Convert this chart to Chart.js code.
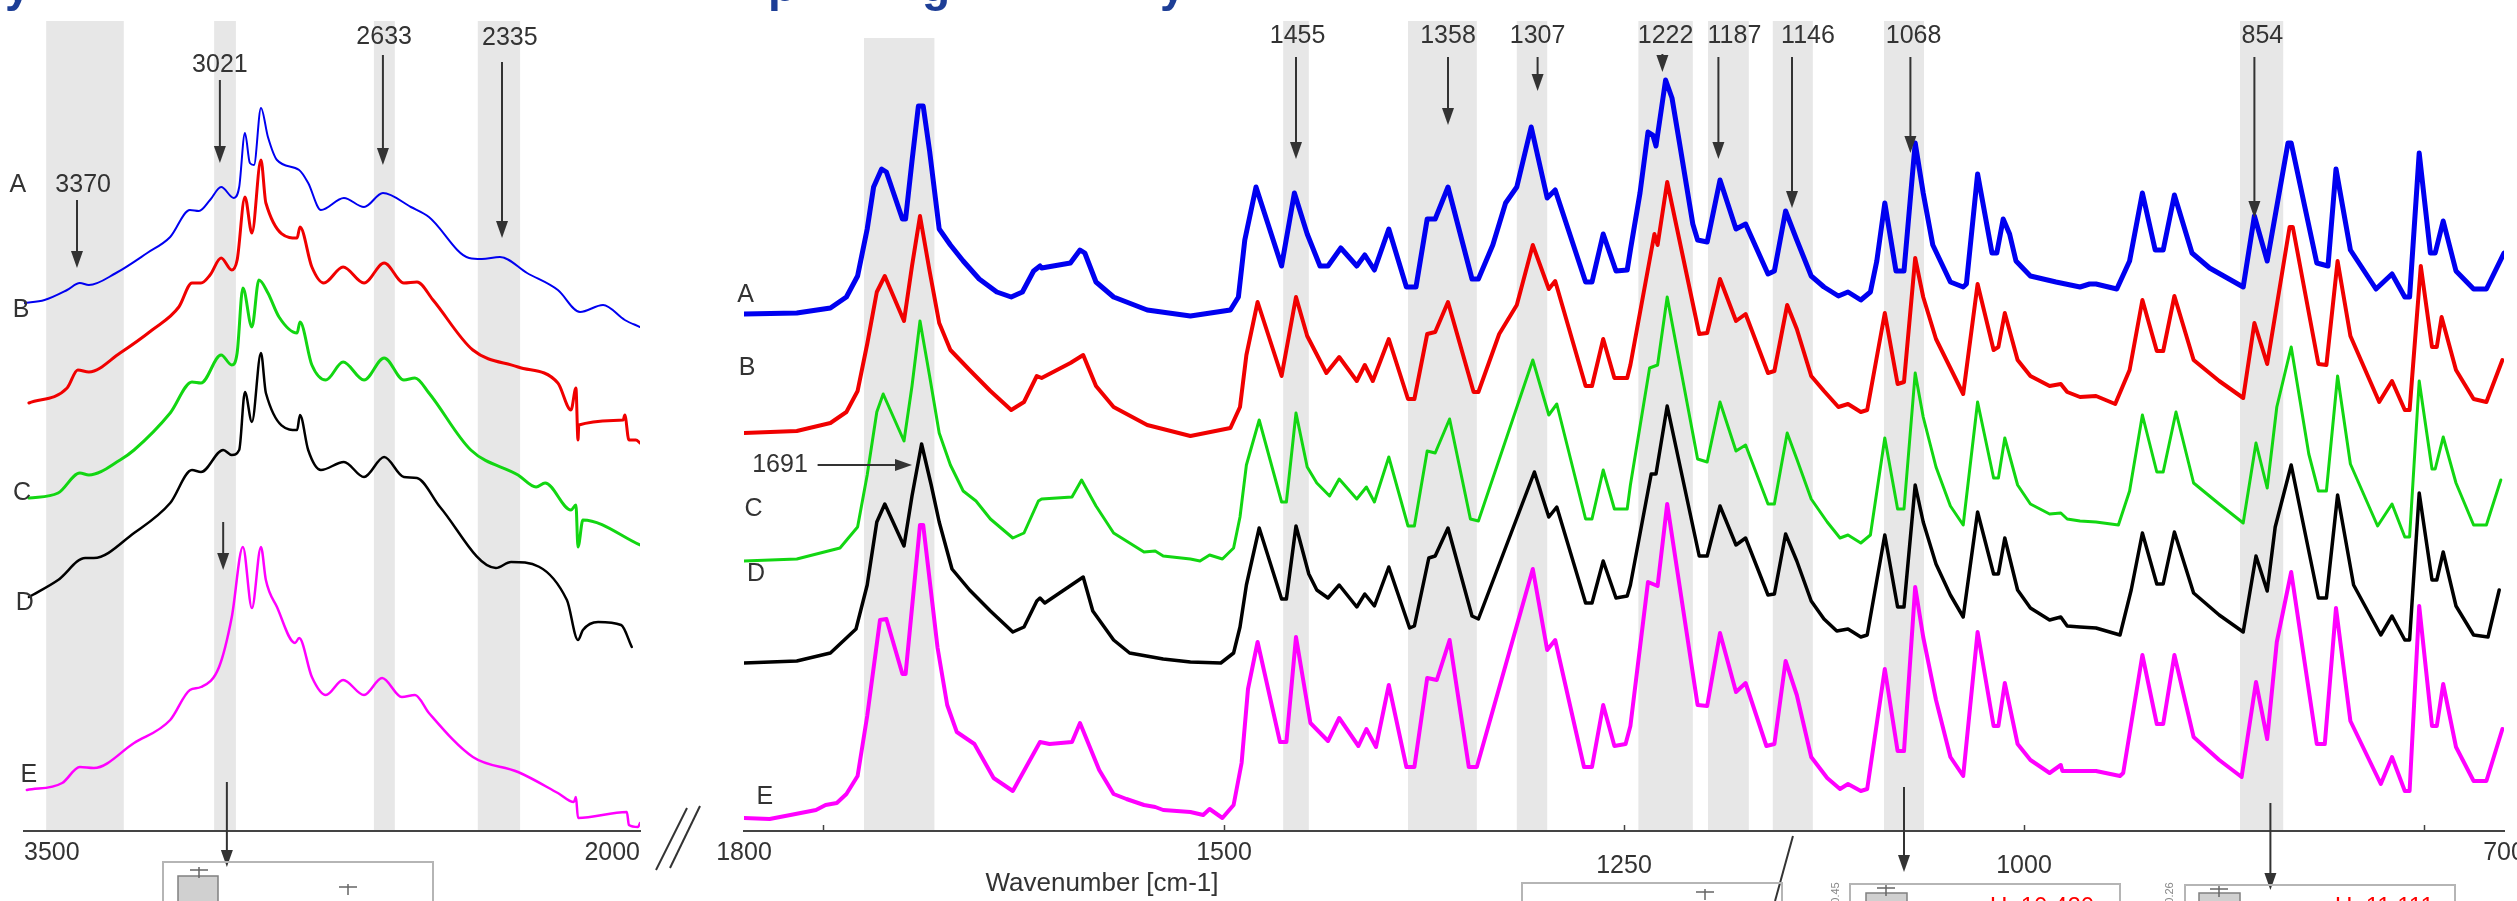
<!DOCTYPE html>
<html>
<head>
<meta charset="utf-8">
<script src="https://cdn.jsdelivr.net/npm/chart.js@4"></script>
<style>
  html, body { margin: 0; padding: 0; background: #fff; overflow: hidden; width: 2517px; height: 901px; }
  canvas { position: absolute; left: 0; top: 0; }
</style>
</head>
<body>
<canvas id="leftChart" width="2560" height="901"></canvas>
<canvas id="rightChart" width="2560" height="901"></canvas>
<script>
/*global Chart*/

// spectra: [wavenumber cm-1, offset absorbance]
const leftA = [[3500,5.28],[3450,5.31],[3395,5.41],[3364,5.48],[3342,5.46],[3276,5.58],[3200,5.78],[3144,5.94],[3096,6.21],[3074,6.20],[3047,6.31],[3020,6.44],[2989,6.33],[2976,6.44],[2962,6.98],[2950,6.68],[2940,6.66],[2923,7.23],[2906,6.94],[2884,6.71],[2830,6.61],[2808,6.48],[2777,6.21],[2721,6.33],[2672,6.24],[2626,6.38],[2558,6.24],[2514,6.14],[2416,5.73],[2385,5.72],[2341,5.74],[2275,5.58],[2200,5.41],[2146,5.19],[2090,5.26],[2037,5.11],[2000,5.04]];
const leftB = [[3488,4.28],[3395,4.43],[3369,4.61],[3342,4.59],[3266,4.78],[3188,5.01],[3123,5.24],[3091,5.48],[3069,5.48],[3047,5.56],[3020,5.73],[2994,5.61],[2981,5.71],[2962,6.34],[2945,5.98],[2923,6.71],[2911,6.28],[2835,5.93],[2828,6.04],[2799,5.64],[2770,5.48],[2723,5.64],[2672,5.48],[2623,5.68],[2575,5.48],[2543,5.49],[2504,5.31],[2407,4.81],[2297,4.64],[2200,4.48],[2168,4.21],[2156,4.43],[2151,3.91],[2149,4.06],[2041,4.11],[2037,4.16],[2027,3.91],[2010,3.91],[2000,3.88]];
const leftC = [[3488,3.33],[3417,3.38],[3364,3.58],[3342,3.56],[3266,3.71],[3232,3.81],[3144,4.18],[3091,4.49],[3069,4.48],[3020,4.76],[2994,4.66],[2981,4.78],[2967,5.43],[2945,5.04],[2928,5.51],[2906,5.38],[2879,5.14],[2835,4.98],[2828,5.09],[2799,4.66],[2765,4.51],[2723,4.69],[2672,4.51],[2623,4.73],[2575,4.51],[2548,4.53],[2514,4.38],[2412,3.81],[2297,3.56],[2253,3.44],[2231,3.48],[2168,3.21],[2156,3.26],[2151,2.84],[2139,3.11],[2000,2.86]];
const leftD = [[3488,2.34],[3417,2.51],[3351,2.73],[3330,2.73],[3232,2.98],[3144,3.28],[3091,3.61],[3069,3.59],[3015,3.81],[2994,3.76],[2976,3.81],[2962,4.39],[2945,4.09],[2923,4.78],[2911,4.38],[2835,4.01],[2828,4.16],[2808,3.81],[2777,3.61],[2721,3.69],[2672,3.54],[2623,3.74],[2575,3.54],[2543,3.53],[2487,3.24],[2351,2.63],[2314,2.69],[2178,2.31],[2151,1.91],[2139,2.01],[2102,2.09],[2046,2.06],[2020,1.84]];
const leftE = [[3493,0.41],[3407,0.48],[3364,0.64],[3330,0.63],[3232,0.88],[3144,1.11],[3096,1.41],[3069,1.44],[3025,1.64],[2994,2.14],[2967,2.84],[2945,2.23],[2923,2.84],[2911,2.51],[2884,2.24],[2840,1.88],[2830,1.93],[2799,1.54],[2765,1.36],[2723,1.51],[2672,1.36],[2628,1.53],[2580,1.34],[2548,1.36],[2514,1.18],[2407,0.74],[2297,0.59],[2200,0.38],[2161,0.29],[2156,0.34],[2151,0.13],[2032,0.19],[2027,0.06],[2005,0.04],[2000,0.08]];

const rightA = [[1800,5.17],[1767,5.18],[1746,5.23],[1736,5.34],[1729,5.55],[1723,6.02],[1719,6.44],[1714,6.62],[1711,6.59],[1701,6.12],[1699,6.12],[1695,6.70],[1691,7.25],[1688,7.25],[1684,6.80],[1678,6.02],[1671,5.86],[1663,5.70],[1653,5.52],[1642,5.39],[1633,5.34],[1626,5.39],[1619,5.60],[1615,5.65],[1614,5.63],[1596,5.68],[1590,5.81],[1587,5.78],[1580,5.49],[1569,5.34],[1548,5.21],[1521,5.15],[1496,5.21],[1491,5.34],[1487,5.91],[1480,6.44],[1464,5.65],[1456,6.38],[1448,5.97],[1440,5.65],[1435,5.65],[1427,5.83],[1417,5.65],[1412,5.76],[1406,5.61],[1397,6.02],[1386,5.44],[1380,5.44],[1373,6.12],[1368,6.12],[1360,6.44],[1345,5.52],[1341,5.52],[1332,5.86],[1324,6.28],[1317,6.44],[1308,7.04],[1298,6.33],[1293,6.41],[1274,5.49],[1270,5.49],[1263,5.97],[1255,5.60],[1248,5.61],[1246,5.81],[1240,6.38],[1235,6.99],[1232,6.96],[1230,6.85],[1224,7.51],[1220,7.33],[1215,6.85],[1207,6.07],[1204,5.91],[1198,5.89],[1190,6.51],[1180,6.02],[1174,6.07],[1160,5.57],[1156,5.60],[1149,6.20],[1142,5.91],[1133,5.55],[1125,5.44],[1116,5.35],[1110,5.39],[1102,5.31],[1096,5.39],[1092,5.70],[1087,6.28],[1080,5.60],[1075,5.60],[1068,6.88],[1063,6.38],[1057,5.86],[1046,5.49],[1038,5.44],[1036,5.47],[1029,6.57],[1020,5.78],[1017,5.78],[1013,6.12],[1009,5.97],[1005,5.70],[996,5.55],[980,5.49],[965,5.44],[959,5.47],[955,5.47],[942,5.42],[934,5.70],[926,6.38],[918,5.81],[913,5.81],[906,6.36],[895,5.78],[884,5.63],[863,5.44],[856,6.15],[848,5.70],[835,6.88],[833,6.88],[817,5.68],[810,5.65],[805,6.62],[796,5.81],[780,5.42],[770,5.57],[762,5.34],[759,5.34],[753,6.78],[746,5.78],[743,5.78],[738,6.10],[730,5.60],[719,5.42],[711,5.42],[700,5.78]];
const rightB = [[1800,3.98],[1767,4.00],[1746,4.08],[1736,4.19],[1729,4.40],[1723,4.87],[1717,5.39],[1712,5.55],[1700,5.10],[1695,5.65],[1690,6.15],[1684,5.60],[1678,5.08],[1671,4.81],[1659,4.61],[1646,4.40],[1633,4.21],[1625,4.29],[1617,4.55],[1614,4.53],[1596,4.68],[1588,4.76],[1580,4.45],[1569,4.24],[1548,4.06],[1521,3.95],[1496,4.03],[1490,4.24],[1486,4.76],[1479,5.29],[1464,4.55],[1455,5.34],[1448,4.95],[1436,4.58],[1428,4.74],[1417,4.50],[1412,4.66],[1407,4.50],[1397,4.92],[1385,4.32],[1381,4.32],[1373,4.97],[1368,4.99],[1360,5.29],[1344,4.39],[1341,4.39],[1328,4.97],[1317,5.26],[1307,5.86],[1297,5.42],[1293,5.50],[1274,4.45],[1270,4.45],[1263,4.92],[1256,4.53],[1248,4.53],[1246,4.66],[1231,5.97],[1229,5.86],[1223,6.49],[1203,4.97],[1198,4.98],[1190,5.52],[1180,5.10],[1174,5.17],[1160,4.58],[1156,4.60],[1148,5.26],[1142,5.02],[1133,4.55],[1125,4.40],[1116,4.24],[1110,4.27],[1102,4.19],[1098,4.21],[1087,5.18],[1079,4.47],[1075,4.49],[1068,5.73],[1063,5.34],[1055,4.92],[1038,4.37],[1029,5.47],[1019,4.81],[1016,4.84],[1012,5.18],[1004,4.71],[996,4.55],[984,4.45],[977,4.47],[973,4.39],[965,4.34],[955,4.35],[943,4.27],[934,4.61],[926,5.31],[917,4.80],[913,4.80],[906,5.35],[894,4.71],[878,4.50],[863,4.33],[856,5.08],[848,4.67],[834,6.04],[832,6.04],[816,4.67],[811,4.66],[804,5.70],[796,4.95],[778,4.29],[770,4.50],[762,4.21],[759,4.21],[752,5.65],[745,4.84],[742,4.84],[739,5.14],[730,4.61],[719,4.32],[711,4.29],[701,4.71]];
const rightC = [[1800,2.70],[1767,2.72],[1740,2.83],[1729,3.04],[1723,3.56],[1717,4.19],[1713,4.37],[1700,3.90],[1695,4.45],[1690,5.10],[1684,4.55],[1678,3.98],[1671,3.66],[1663,3.40],[1655,3.30],[1646,3.12],[1632,2.93],[1625,2.98],[1616,3.30],[1614,3.32],[1595,3.34],[1589,3.51],[1580,3.25],[1569,2.98],[1559,2.88],[1550,2.79],[1543,2.80],[1538,2.75],[1521,2.72],[1515,2.70],[1509,2.76],[1501,2.72],[1494,2.83],[1490,3.14],[1486,3.66],[1478,4.11],[1464,3.29],[1461,3.29],[1455,4.18],[1448,3.64],[1442,3.48],[1434,3.35],[1428,3.52],[1417,3.32],[1411,3.44],[1406,3.29],[1397,3.74],[1385,3.05],[1381,3.05],[1373,3.80],[1368,3.78],[1359,4.12],[1346,3.12],[1341,3.10],[1307,4.71],[1297,4.16],[1292,4.27],[1274,3.12],[1270,3.12],[1263,3.61],[1256,3.22],[1248,3.22],[1246,3.46],[1234,4.63],[1229,4.66],[1223,5.34],[1204,3.72],[1198,3.69],[1190,4.29],[1180,3.80],[1174,3.86],[1160,3.27],[1156,3.27],[1148,3.98],[1142,3.72],[1133,3.32],[1123,3.09],[1115,2.93],[1110,2.96],[1102,2.88],[1096,2.96],[1087,3.93],[1079,3.22],[1075,3.22],[1068,4.58],[1063,4.14],[1055,3.64],[1046,3.25],[1038,3.06],[1029,4.29],[1019,3.53],[1016,3.53],[1012,3.93],[1004,3.46],[996,3.27],[984,3.17],[977,3.18],[973,3.12],[965,3.10],[955,3.09],[941,3.06],[934,3.40],[926,4.16],[917,3.59],[913,3.59],[905,4.19],[894,3.48],[878,3.27],[863,3.08],[855,3.88],[848,3.43],[842,4.24],[833,4.84],[822,3.77],[816,3.40],[811,3.40],[804,4.55],[796,3.67],[779,3.05],[770,3.27],[762,2.94],[759,2.94],[753,4.50],[745,3.62],[743,3.62],[738,3.94],[730,3.48],[719,3.06],[711,3.06],[702,3.51]];
const rightD = [[1800,1.68],[1767,1.70],[1746,1.78],[1730,2.02],[1723,2.46],[1717,3.09],[1712,3.27],[1700,2.85],[1695,3.35],[1689,3.87],[1683,3.46],[1678,3.09],[1670,2.62],[1659,2.41],[1646,2.20],[1632,1.99],[1625,2.04],[1617,2.30],[1615,2.33],[1612,2.28],[1588,2.54],[1582,2.20],[1569,1.91],[1559,1.78],[1538,1.72],[1521,1.69],[1502,1.68],[1494,1.78],[1490,2.04],[1486,2.46],[1478,3.03],[1464,2.32],[1461,2.32],[1455,3.05],[1447,2.57],[1442,2.41],[1435,2.33],[1428,2.46],[1417,2.24],[1412,2.37],[1406,2.25],[1397,2.64],[1384,2.03],[1381,2.05],[1372,2.73],[1368,2.75],[1360,3.03],[1345,2.15],[1341,2.12],[1306,3.59],[1297,3.14],[1292,3.24],[1274,2.28],[1270,2.28],[1263,2.70],[1255,2.33],[1248,2.35],[1246,2.46],[1233,3.57],[1230,3.57],[1223,4.25],[1203,2.75],[1198,2.75],[1190,3.25],[1180,2.86],[1174,2.93],[1160,2.36],[1156,2.37],[1149,2.97],[1142,2.70],[1133,2.30],[1125,2.12],[1117,2.00],[1110,2.02],[1102,1.94],[1098,1.96],[1087,2.96],[1079,2.24],[1075,2.24],[1068,3.46],[1063,3.09],[1055,2.67],[1046,2.36],[1038,2.14],[1029,3.19],[1019,2.57],[1016,2.57],[1012,2.93],[1004,2.41],[996,2.23],[984,2.11],[977,2.14],[973,2.05],[965,2.04],[955,2.03],[940,1.96],[933,2.41],[926,2.98],[917,2.47],[913,2.47],[906,2.99],[894,2.38],[878,2.16],[863,1.99],[855,2.75],[848,2.40],[843,3.04],[833,3.66],[816,2.33],[811,2.33],[804,3.36],[794,2.46],[777,1.96],[770,2.15],[762,1.91],[759,1.91],[753,3.38],[745,2.51],[742,2.51],[738,2.79],[730,2.25],[719,1.96],[710,1.94],[703,2.41]];
const rightE = [[1800,0.13],[1784,0.12],[1771,0.16],[1755,0.21],[1749,0.26],[1742,0.28],[1736,0.37],[1729,0.55],[1723,1.15],[1715,2.11],[1711,2.12],[1701,1.57],[1699,1.57],[1690,3.06],[1688,3.06],[1679,1.83],[1673,1.26],[1667,0.99],[1656,0.87],[1644,0.53],[1632,0.40],[1615,0.89],[1609,0.87],[1595,0.89],[1590,1.08],[1578,0.61],[1569,0.37],[1561,0.32],[1550,0.26],[1543,0.24],[1538,0.21],[1521,0.19],[1513,0.16],[1509,0.22],[1501,0.13],[1494,0.26],[1489,0.68],[1485,1.42],[1479,1.89],[1465,0.89],[1461,0.89],[1455,1.94],[1446,1.08],[1435,0.90],[1428,1.13],[1416,0.85],[1411,1.02],[1405,0.84],[1397,1.46],[1386,0.64],[1381,0.64],[1373,1.53],[1367,1.51],[1359,1.91],[1347,0.64],[1342,0.64],[1307,2.62],[1298,1.81],[1293,1.91],[1275,0.64],[1270,0.64],[1263,1.26],[1256,0.85],[1249,0.87],[1246,1.05],[1235,2.49],[1229,2.45],[1223,3.27],[1204,1.26],[1198,1.25],[1190,1.98],[1180,1.39],[1174,1.48],[1161,0.85],[1156,0.87],[1149,1.70],[1142,1.36],[1133,0.74],[1123,0.53],[1115,0.42],[1110,0.47],[1102,0.40],[1098,0.42],[1087,1.62],[1079,0.80],[1075,0.80],[1068,2.44],[1063,1.94],[1055,1.31],[1046,0.74],[1038,0.55],[1029,1.99],[1019,1.05],[1016,1.05],[1012,1.48],[1004,0.87],[996,0.71],[984,0.58],[977,0.66],[976,0.60],[959,0.60],[955,0.60],[940,0.55],[938,0.58],[926,1.76],[917,1.07],[913,1.07],[906,1.76],[894,0.94],[878,0.71],[864,0.54],[855,1.49],[848,0.92],[842,1.89],[833,2.59],[817,0.87],[812,0.87],[805,2.23],[796,1.10],[777,0.47],[770,0.74],[762,0.40],[759,0.40],[753,2.25],[745,1.05],[742,1.05],[738,1.47],[730,0.84],[719,0.50],[711,0.50],[701,1.02]];

const seriesNames = ['A', 'B', 'C', 'D', 'E'];
const seriesColors = ['#0000f0', '#f00000', '#12d612', '#000000', '#ff00ff'];

// axis ticks (ascending order so that 'inner' alignment works on the reversed axis)
const leftTicks = [2000, 3500];
const rightTicks = [700, 750, 1000, 1250, 1500, 1750, 1800];
const rightLabels = [1800, 1500, 700];
const rightLowerLabels = [1250, 1000];

// shaded bands [from, to, top]
const leftBands = [[3446, 3257, 8.1], [3037, 2984, 8.1], [2648, 2597, 8.1], [2395, 2292, 8.1]];
const rightBands = [[1725, 1681, 7.93], [1463, 1447, 8.1], [1385, 1342, 8.1], [1317, 1298, 8.1], [1241, 1207, 8.1], [1197.5, 1172, 8.1], [1157, 1132, 8.1], [1087.5, 1062.5, 8.1], [865, 838, 8.1]];

// peak markers
const leftArrows = [
    { x: 3371, y1: 6.31, y2: 5.63, text: '3370', tx: 3356, ty: 6.46 },
    { x: 3023, y1: 7.51, y2: 6.68, text: '3021', tx: 3023, ty: 7.66 },
    { x: 2626, y1: 7.76, y2: 6.66, text: '2633', tx: 2623, ty: 7.94 },
    { x: 2336, y1: 7.69, y2: 5.93, text: '2335', tx: 2317, ty: 7.93 },
    { x: 3015, y1: 3.09, y2: 2.61 },
    { x: 3006, y1: 0.49, y2: -0.36 },
];
const rightArrows = [
    { x: 1455, y1: 7.74, y2: 6.72, text: '1455', tx: 1454, ty: 7.95 },
    { x: 1360, y1: 7.74, y2: 7.06, text: '1358', tx: 1360, ty: 7.95 },
    { x: 1304, y1: 7.74, y2: 7.40, text: '1307', tx: 1304, ty: 7.95 },
    { x: 1226, y1: 7.77, y2: 7.59, text: '1222', tx: 1224, ty: 7.95 },
    { x: 1191, y1: 7.74, y2: 6.72, text: '1187', tx: 1181, ty: 7.95 },
    { x: 1145, y1: 7.74, y2: 6.23, text: '1146', tx: 1135, ty: 7.95 },
    { x: 1071, y1: 7.74, y2: 6.78, text: '1068', tx: 1069, ty: 7.95 },
    { x: 856, y1: 7.74, y2: 6.13, text: '854', tx: 851, ty: 7.95 },
    { x: 1075, y1: 0.44, y2: -0.41 },
    { x: 846, y1: 0.28, y2: -0.59 },
];
const leftLetters = [['A', 3515, 6.46], ['B', 3507, 5.21], ['C', 3505, 3.38], ['D', 3498, 2.28], ['E', 3488, 0.56]];
const rightLetters = [['A', 1799, 5.36], ['B', 1798, 4.63], ['C', 1794, 3.22], ['D', 1792.5, 2.57], ['E', 1787, 0.34]];

const inkColor = '#333333';
const bandColor = '#e7e7e7';
const textFont = '25px "Liberation Sans", Arial, sans-serif';

Chart.defaults.font.family = '"Liberation Sans", Arial, sans-serif';
Chart.defaults.color = inkColor;

function makeDatasets(series, widths, smooth) {
    return series.map((s, i) => ({
        label: seriesNames[i],
        data: s.map(p => ({ x: p[0], y: p[1] })),
        borderColor: seriesColors[i],
        borderWidth: widths[i],
        pointRadius: 0,
        fill: false,
        tension: 0,
        cubicInterpolationMode: smooth ? 'monotone' : 'default',
        borderJoinStyle: 'round',
        borderCapStyle: 'round',
    }));
}

function drawArrow(ctx, x1, y1, x2, y2) {
    const ang = Math.atan2(y2 - y1, x2 - x1);
    const head = Math.min(17, Math.hypot(x2 - x1, y2 - y1));
    const bx = x2 - head * Math.cos(ang);
    const by = y2 - head * Math.sin(ang);
    ctx.beginPath();
    ctx.moveTo(x1, y1);
    ctx.lineTo(bx, by);
    ctx.stroke();
    ctx.beginPath();
    ctx.moveTo(x2, y2);
    ctx.lineTo(bx + 6 * Math.sin(ang), by - 6 * Math.cos(ang));
    ctx.lineTo(bx - 6 * Math.sin(ang), by + 6 * Math.cos(ang));
    ctx.closePath();
    ctx.fill();
}

function makeAnnotator(id, bands, arrows, letters, extra) {
    return {
        id: id,
        beforeDatasetsDraw(chart) {
            const { ctx, chartArea } = chart;
            const x = chart.scales.x, y = chart.scales.y;
            ctx.save();
            ctx.fillStyle = bandColor;
            bands.forEach(b => {
                const x1 = x.getPixelForValue(b[0]);
                const x2 = x.getPixelForValue(b[1]);
                const top = y.getPixelForValue(b[2]);
                ctx.fillRect(Math.min(x1, x2), top, Math.abs(x2 - x1), chartArea.bottom - 1 - top);
            });
            ctx.restore();
        },
        afterDatasetsDraw(chart) {
            const ctx = chart.ctx;
            const x = chart.scales.x, y = chart.scales.y;
            ctx.save();
            ctx.font = textFont;
            ctx.fillStyle = inkColor;
            ctx.strokeStyle = inkColor;
            ctx.lineWidth = 2;
            ctx.textAlign = 'center';
            ctx.textBaseline = 'middle';
            arrows.forEach(a => {
                const px = x.getPixelForValue(a.x);
                drawArrow(ctx, px, y.getPixelForValue(a.y1), px, y.getPixelForValue(a.y2));
                if (a.text) {
                    ctx.fillText(a.text, x.getPixelForValue(a.tx), y.getPixelForValue(a.ty));
                }
            });
            letters.forEach(l => ctx.fillText(l[0], x.getPixelForValue(l[1]), y.getPixelForValue(l[2])));
            if (extra) extra(chart, ctx, x, y);
            ctx.restore();
        }
    };
}

// 1691 pointer, lower-row tick labels and the slanted lead line of the right panel
function rightExtras(chart, ctx, x, y) {
    const py = y.getPixelForValue(3.66);
    ctx.fillText('1691', x.getPixelForValue(1777.5), py);
    drawArrow(ctx, x.getPixelForValue(1754), py, x.getPixelForValue(1695), py);
    ctx.beginPath();
    ctx.moveTo(x.getPixelForValue(1144.4), y.getPixelForValue(-0.05));
    ctx.lineTo(x.getPixelForValue(1155.6), y.getPixelForValue(-0.70));
    ctx.stroke();
    rightLowerLabels.forEach(v => ctx.fillText(String(v), x.getPixelForValue(v), chart.chartArea.bottom + 35));
}

// page furniture around the plot: cut-off title, axis break, insets, axis title
const decor = {
    id: 'decor',
    afterDraw(chart) {
        const ctx = chart.ctx;
        ctx.save();
        ctx.fillStyle = '#1d3e96';
        ctx.font = 'bold 46px "Liberation Sans", Arial, sans-serif';
        ctx.textBaseline = 'alphabetic';
        [[5, 'y'], [768, 'p'], [922, 'g'], [1160, 'y']].forEach(b => ctx.fillText(b[1], b[0], 1));

        ctx.fillStyle = inkColor;
        ctx.font = '26px "Liberation Sans", Arial, sans-serif';
        ctx.textAlign = 'center';
        ctx.textBaseline = 'middle';
        ctx.fillText('Wavenumber [cm-1]', 1102, 884);

        ctx.strokeStyle = inkColor;
        ctx.lineWidth = 2;
        [[687, 808, 656, 870], [700, 806, 670, 868]].forEach(l => {
            ctx.beginPath();
            ctx.moveTo(l[0], l[1]);
            ctx.lineTo(l[2], l[3]);
            ctx.stroke();
        });

        ctx.strokeStyle = '#b5b5b5';
        ctx.lineWidth = 2;
        ctx.strokeRect(163, 862, 270, 80);
        ctx.strokeRect(1522, 883, 260, 60);
        ctx.strokeRect(1850, 884, 270, 60);
        ctx.strokeRect(2185, 885, 270, 60);

        ctx.fillStyle = '#d0d0d0';
        ctx.strokeStyle = '#808080';
        ctx.lineWidth = 1.5;
        [[178, 876, 40, 40], [1866, 893, 41, 20], [2199, 893, 41, 20]].forEach(r => {
            ctx.fillRect(r[0], r[1], r[2], r[3]);
            ctx.strokeRect(r[0], r[1], r[2], r[3]);
        });
        ctx.strokeStyle = '#666';
        [[199, 870], [348, 887], [1705, 892], [1886, 888], [2219, 889]].forEach(m => {
            ctx.beginPath();
            ctx.moveTo(m[0] - 9, m[1]);
            ctx.lineTo(m[0] + 9, m[1]);
            ctx.moveTo(m[0], m[1] - 3);
            ctx.lineTo(m[0], m[1] + 8);
            ctx.stroke();
        });

        ctx.fillStyle = '#888';
        ctx.font = '11px "Liberation Sans", Arial, sans-serif';
        [[1836, 893, '0.45'], [2170, 893, '0.26']].forEach(t => {
            ctx.save();
            ctx.translate(t[0], t[1]);
            ctx.rotate(-Math.PI / 2);
            ctx.fillText(t[2], 0, 0);
            ctx.restore();
        });

        ctx.fillStyle = '#ff0000';
        ctx.font = '24px "Liberation Sans", Arial, sans-serif';
        ctx.textAlign = 'left';
        ctx.textBaseline = 'top';
        ctx.fillText('U: 10.420', 1990, 895);
        ctx.fillText('U: 11.111', 2335, 895);
        ctx.restore();
    }
};

const tickFont = { size: 25 };

const leftConfig = {
    type: 'line',
    data: { datasets: makeDatasets([leftA, leftB, leftC, leftD, leftE], [2, 3, 3, 2.5, 2.5], true) },
    options: {
        responsive: false,
        animation: false,
        events: [],
        devicePixelRatio: 1,
        layout: { padding: { left: 24, right: 1920, top: 21, bottom: 0 } },
        plugins: { legend: { display: false }, tooltip: { enabled: false } },
        scales: {
            x: {
                type: 'linear',
                position: 'bottom',
                reverse: true,
                min: 2000,
                max: 3500,
                afterBuildTicks: s => { s.ticks = leftTicks.map(v => ({ value: v })); },
                afterFit: s => { s.height = 70; },
                ticks: { autoSkip: false, maxRotation: 0, align: 'inner', padding: 7, font: tickFont, color: inkColor,
                    callback: v => String(v) },
                grid: { display: true, drawOnChartArea: false, drawTicks: false, color: 'rgba(0,0,0,0)' },
                border: { display: true, color: '#444', width: 2 },
            },
            y: { display: false, min: 0, max: 8.1 },
        },
    },
    plugins: [makeAnnotator('leftNotes', leftBands, leftArrows, leftLetters, null)],
};

const rightConfig = {
    type: 'line',
    data: { datasets: makeDatasets([rightA, rightB, rightC, rightD, rightE], [5, 4, 3, 3.5, 4], false) },
    options: {
        responsive: false,
        animation: false,
        events: [],
        devicePixelRatio: 1,
        layout: { padding: { left: 744, right: 56, top: 21, bottom: 0 } },
        plugins: { legend: { display: false }, tooltip: { enabled: false } },
        scales: {
            x: {
                type: 'linear',
                position: 'bottom',
                reverse: true,
                min: 700,
                max: 1800,
                afterBuildTicks: s => { s.ticks = rightTicks.map(v => ({ value: v })); },
                afterFit: s => { s.height = 70; },
                ticks: { autoSkip: false, maxRotation: 0, padding: 13, font: tickFont, color: inkColor,
                    callback: v => (rightLabels.includes(v) ? String(v) : '') },
                grid: {
                    drawOnChartArea: false,
                    tickLength: -6,
                    tickWidth: 1.5,
                    tickColor: c => (c.tick && (c.tick.value === 1800 || c.tick.value === 700) ? 'rgba(0,0,0,0)' : '#444'),
                },
                border: { display: true, color: '#444', width: 2 },
            },
            y: { display: false, min: 0, max: 8.1 },
        },
    },
    plugins: [makeAnnotator('rightNotes', rightBands, rightArrows, rightLetters, rightExtras), decor],
};

/*eslint-disable no-unused-vars*/
const leftChart = new Chart(document.getElementById('leftChart'), leftConfig);
const rightChart = new Chart(document.getElementById('rightChart'), rightConfig);
</script>
</body>
</html>
